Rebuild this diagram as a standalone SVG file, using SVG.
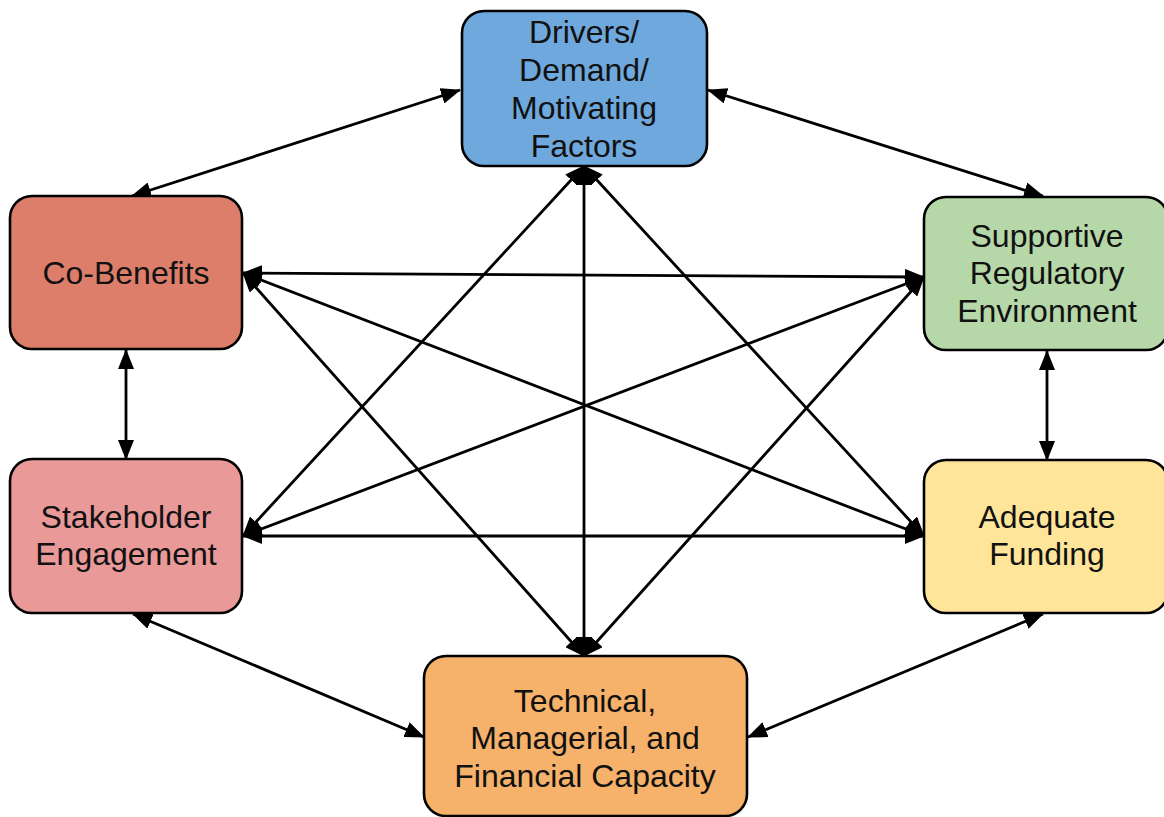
<svg xmlns="http://www.w3.org/2000/svg" width="1164" height="817" viewBox="0 0 1164 817">
  <style>
    .box { stroke: #000; stroke-width: 2.6; }
    .lbl { font-family: "Liberation Sans", Arial, sans-serif; font-size: 32px; fill: #111; text-anchor: middle; }
    .link { stroke: #000; stroke-width: 2.8; fill: none; marker-start: url(#head); marker-end: url(#head); }
  </style>
  <defs>
    <marker id="head" viewBox="0 0 20 16" markerWidth="20" markerHeight="16" refX="19" refY="8" orient="auto-start-reverse" markerUnits="userSpaceOnUse">
      <path d="M0,0 L20,8 L0,16 z" fill="#000"/>
    </marker>
  </defs>
  <rect width="1164" height="817" fill="#fff"/>

  <!-- bidirectional links between all factors -->
  <g id="connectors">
    <line class="link" x1="460" y1="90" x2="132" y2="196"/>
    <line class="link" x1="708" y1="90" x2="1043" y2="196"/>
    <line class="link" x1="126" y1="350" x2="126" y2="459"/>
    <line class="link" x1="1047" y1="351" x2="1047" y2="460"/>
    <line class="link" x1="133" y1="614" x2="424" y2="737"/>
    <line class="link" x1="1043" y1="614" x2="748" y2="737"/>
    <line class="link" x1="584" y1="166" x2="584" y2="656"/>
    <line class="link" x1="584" y1="166" x2="243" y2="536"/>
    <line class="link" x1="584" y1="166" x2="924" y2="536"/>
    <line class="link" x1="243" y1="273" x2="924" y2="277"/>
    <line class="link" x1="243" y1="273" x2="924" y2="536"/>
    <line class="link" x1="243" y1="273" x2="584" y2="656"/>
    <line class="link" x1="924" y1="277" x2="243" y2="536"/>
    <line class="link" x1="924" y1="277" x2="584" y2="656"/>
    <line class="link" x1="243" y1="536" x2="924" y2="536"/>
  </g>

  <g id="drivers">
    <rect class="box" x="462" y="11" width="245" height="155" rx="22" fill="#6fa8dc"/>
    <text class="lbl" x="584" y="43">Drivers/</text>
    <text class="lbl" x="584" y="81">Demand/</text>
    <text class="lbl" x="584" y="119">Motivating</text>
    <text class="lbl" x="584" y="157">Factors</text>
  </g>

  <g id="co-benefits">
    <rect class="box" x="10" y="196" width="232" height="153" rx="22" fill="#dd7e6b"/>
    <text class="lbl" x="126" y="284">Co-Benefits</text>
  </g>

  <g id="regulatory">
    <rect class="box" x="924" y="197" width="244" height="153" rx="22" fill="#b6d7a8"/>
    <text class="lbl" x="1047" y="247">Supportive</text>
    <text class="lbl" x="1047" y="284">Regulatory</text>
    <text class="lbl" x="1047" y="322">Environment</text>
  </g>

  <g id="stakeholder">
    <rect class="box" x="10" y="459" width="232" height="154" rx="22" fill="#ea9999"/>
    <text class="lbl" x="126" y="528">Stakeholder</text>
    <text class="lbl" x="126" y="565">Engagement</text>
  </g>

  <g id="funding">
    <rect class="box" x="924" y="460" width="244" height="153" rx="22" fill="#ffe599"/>
    <text class="lbl" x="1047" y="528">Adequate</text>
    <text class="lbl" x="1047" y="565">Funding</text>
  </g>

  <g id="capacity">
    <rect class="box" x="424" y="656" width="323" height="160" rx="22" fill="#f6b26b"/>
    <text class="lbl" x="585" y="712">Technical,</text>
    <text class="lbl" x="585" y="749">Managerial, and</text>
    <text class="lbl" x="585" y="787">Financial Capacity</text>
  </g>
</svg>
